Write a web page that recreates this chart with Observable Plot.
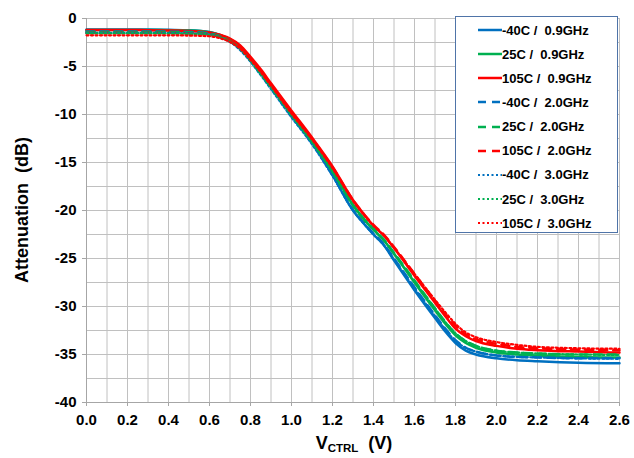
<!DOCTYPE html>
<html><head><meta charset="utf-8">
<script src="https://cdn.jsdelivr.net/npm/d3@7"></script>
<script src="https://cdn.jsdelivr.net/npm/@observablehq/plot@0.6"></script>
<style>
body{margin:0;background:#fff;}
#wrap{position:relative;width:634px;height:458px;font-family:"Liberation Sans",Arial,sans-serif;overflow:hidden;}
#legend{position:absolute;left:455px;top:16px;width:161px;height:215px;border:1px solid #4f74a8;background:#fff;}
.item{position:absolute;left:22px;height:20px;display:flex;align-items:center;font-weight:bold;font-size:13px;white-space:pre;color:#000;}
.item svg{display:block;}
#xlab{position:absolute;left:0;width:708px;top:433px;text-align:center;font-weight:bold;font-size:18px;white-space:pre;}
#xlab sub{font-size:11.5px;vertical-align:-3px;}
#ylab{position:absolute;left:22px;top:210px;transform:translate(-50%,-50%) rotate(-90deg);font-weight:bold;font-size:18px;white-space:pre;}
</style></head><body><div id="wrap"></div><script>
// Control voltage (V)
const vctrl = [0,0.1,0.2,0.3,0.4,0.5,0.6,0.65,0.7,0.75,0.8,0.85,0.9,1.0,1.1,1.2,1.3,1.35,1.4,1.45,1.5,1.6,1.7,1.75,1.8,1.85,1.9,2.0,2.1,2.2,2.4,2.6];

// Attenuation (dB) per series
const m40_09 = [-1.15,-1.15,-1.15,-1.15,-1.18,-1.22,-1.4,-1.7,-2.2,-3.0,-4.2,-5.6,-7.1,-10.1,-12.9,-16.3,-20.0,-21.3,-22.5,-23.6,-25.2,-28.3,-31.2,-32.6,-33.8,-34.6,-35.0,-35.4,-35.6,-35.7,-35.85,-35.9];
const p25_09 = [-1.2,-1.2,-1.2,-1.2,-1.22,-1.25,-1.42,-1.7,-2.15,-2.9,-4.1,-5.45,-6.9,-9.9,-12.7,-15.8,-19.4,-20.8,-22.0,-23.1,-24.5,-27.5,-30.4,-31.8,-33.0,-33.8,-34.3,-34.8,-35.0,-35.1,-35.25,-35.3];
const p105_09 = [-1.2,-1.2,-1.2,-1.22,-1.25,-1.3,-1.45,-1.7,-2.1,-2.8,-4.0,-5.3,-6.75,-9.6,-12.4,-15.4,-18.9,-20.3,-21.6,-22.6,-23.9,-26.8,-29.6,-31.0,-32.3,-33.1,-33.6,-34.1,-34.4,-34.55,-34.7,-34.8];
const m40_20 = [-1.35,-1.35,-1.35,-1.35,-1.37,-1.4,-1.55,-1.85,-2.35,-3.2,-4.4,-5.8,-7.25,-10.2,-13.0,-16.3,-19.9,-21.2,-22.4,-23.5,-25.0,-28.0,-30.9,-32.3,-33.5,-34.3,-34.7,-35.1,-35.25,-35.3,-35.4,-35.4];
const p25_20 = [-1.4,-1.4,-1.4,-1.4,-1.42,-1.45,-1.6,-1.85,-2.3,-3.1,-4.3,-5.7,-7.1,-10.0,-12.8,-15.9,-19.4,-20.8,-21.9,-23.0,-24.4,-27.3,-30.2,-31.6,-32.8,-33.6,-34.1,-34.6,-34.8,-34.9,-35.0,-35.0];
const p105_20 = [-1.5,-1.5,-1.5,-1.5,-1.52,-1.55,-1.68,-1.9,-2.3,-3.0,-4.2,-5.5,-6.95,-9.8,-12.5,-15.5,-18.9,-20.3,-21.5,-22.5,-23.8,-26.6,-29.4,-30.8,-32.0,-32.9,-33.4,-33.9,-34.2,-34.35,-34.5,-34.55];
const m40_30 = [-1.5,-1.5,-1.5,-1.5,-1.52,-1.55,-1.68,-1.95,-2.45,-3.3,-4.5,-5.9,-7.35,-10.3,-13.1,-16.4,-20.0,-21.3,-22.5,-23.6,-25.1,-28.1,-31.0,-32.4,-33.6,-34.3,-34.7,-35.1,-35.25,-35.3,-35.4,-35.45];
const p25_30 = [-1.55,-1.55,-1.55,-1.55,-1.57,-1.6,-1.72,-1.95,-2.4,-3.2,-4.4,-5.8,-7.2,-10.1,-12.9,-16.0,-19.5,-20.9,-22.0,-23.1,-24.5,-27.4,-30.2,-31.6,-32.8,-33.6,-34.1,-34.6,-34.8,-34.9,-35.0,-35.05];
const p105_30 = [-1.75,-1.75,-1.75,-1.75,-1.75,-1.78,-1.85,-2.05,-2.45,-3.15,-4.3,-5.6,-7.0,-9.9,-12.6,-15.6,-19.0,-20.4,-21.6,-22.6,-23.9,-26.6,-29.3,-30.6,-31.8,-32.7,-33.2,-33.7,-34.0,-34.2,-34.35,-34.4];

const seriesNames = ["-40C /  0.9GHz","25C /  0.9GHz","105C /  0.9GHz","-40C /  2.0GHz","25C /  2.0GHz","105C /  2.0GHz","-40C /  3.0GHz","25C /  3.0GHz","105C /  3.0GHz"];
const seriesValues = [m40_09,p25_09,p105_09,m40_20,p25_20,p105_20,m40_30,p25_30,p105_30];
const seriesColors = ["#0070c0","#00b050","#ff0000","#0070c0","#00b050","#ff0000","#0070c0","#00b050","#ff0000"];
const seriesDash = [null,null,null,"8,6","8,6","8,6","2,2.5","2,2.5","2,2.5"];
const seriesWidth = [2.5,2.5,2.5,2.5,2.5,2.5,2.2,2.2,2.2];

const xTicks = [0,0.2,0.4,0.6,0.8,1.0,1.2,1.4,1.6,1.8,2.0,2.2,2.4,2.6];
const yTicks = [0,-5,-10,-15,-20,-25,-30,-35,-40];
const xGrid = [0,0.1,0.2,0.3,0.4,0.5,0.6,0.7,0.8,0.9,1.0,1.1,1.2,1.3,1.4,1.5,1.6,1.7,1.8,1.9,2.0,2.1,2.2,2.3,2.4,2.5,2.6];
const yGrid = [0,-2.5,-5,-7.5,-10,-12.5,-15,-17.5,-20,-22.5,-25,-27.5,-30,-32.5,-35,-37.5,-40];

const lineMarks = seriesValues.map((vals, i) =>
  Plot.line(vctrl.map((v, j) => ({v, a: vals[j]})), {
    x: "v", y: "a", stroke: seriesColors[i], strokeWidth: seriesWidth[i],
    strokeDasharray: seriesDash[i] || undefined, curve: "monotone-x"
  })
);

const chart = Plot.plot({
  width: 634, height: 458,
  marginLeft: 86, marginRight: 15, marginTop: 18, marginBottom: 56,
  style: {fontFamily: "Liberation Sans, Arial, sans-serif", fontSize: "15px", fontWeight: "bold", color: "#000", background: "#fff", overflow: "visible"},
  x: {domain: [0, 2.6]},
  y: {domain: [-40, 0]},
  marks: [
    Plot.gridX(xGrid, {stroke: "#c0c0c0", strokeOpacity: 1}),
    Plot.gridY(yGrid, {stroke: "#c0c0c0", strokeOpacity: 1}),
    Plot.ruleX([0], {stroke: "#a6a6a6"}),
    Plot.ruleY([-40], {stroke: "#a6a6a6"}),
    ...lineMarks,
    Plot.axisX(xTicks, {tickFormat: d => d.toFixed(1), label: null, tickSize: 4, tickPadding: 8, stroke: "#a6a6a6"}),
    Plot.axisY(yTicks, {tickFormat: d => String(d), label: null, tickSize: 4, tickPadding: 6, stroke: "#a6a6a6"})
  ]
});

const wrap = document.getElementById("wrap");
wrap.appendChild(chart);

const legend = document.createElement("div");
legend.id = "legend";
seriesNames.forEach((name, i) => {
  const it = document.createElement("div");
  it.className = "item";
  it.style.top = (3 + 24.15 * i) + "px";
  const ns = "http://www.w3.org/2000/svg";
  const s = document.createElementNS(ns, "svg");
  s.setAttribute("width", 24); s.setAttribute("height", 6);
  const l = document.createElementNS(ns, "line");
  l.setAttribute("x1", 0); l.setAttribute("x2", 24); l.setAttribute("y1", 3); l.setAttribute("y2", 3);
  l.setAttribute("stroke", seriesColors[i]); l.setAttribute("stroke-width", seriesWidth[i]);
  if (seriesDash[i]) l.setAttribute("stroke-dasharray", seriesDash[i]);
  s.appendChild(l);
  it.appendChild(s);
  const t = document.createElement("span");
  t.textContent = name;
  it.appendChild(t);
  legend.appendChild(it);
});
wrap.appendChild(legend);

const xlab = document.createElement("div");
xlab.id = "xlab";
xlab.innerHTML = "V<sub>CTRL</sub>  (V)";
wrap.appendChild(xlab);

const ylab = document.createElement("div");
ylab.id = "ylab";
ylab.textContent = "Attenuation  (dB)";
wrap.appendChild(ylab);
</script></body></html>
